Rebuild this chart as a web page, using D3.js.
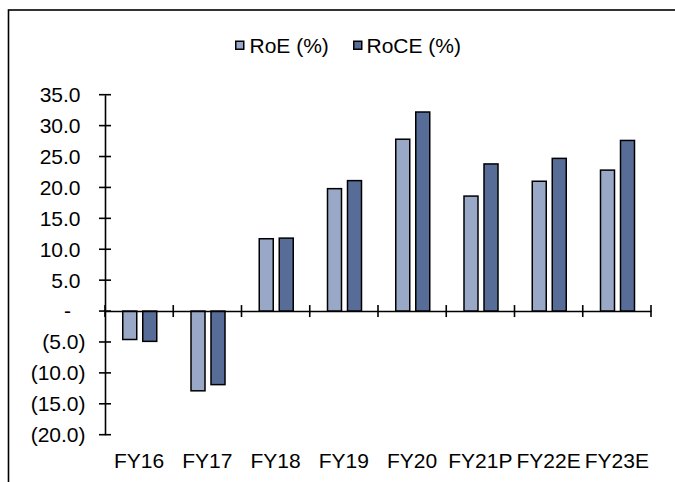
<!DOCTYPE html>
<html>
<head>
<meta charset="utf-8">
<script src="https://cdn.jsdelivr.net/npm/d3@7"></script>
<style>
  html, body { margin: 0; padding: 0; background: #fff; }
  svg { display: block; font-family: "Liberation Sans", Arial, sans-serif; }
</style>
</head>
<body>
<svg id="chart" width="675" height="482"></svg>
<script>
// Return ratios by fiscal year
const categories = ["FY16", "FY17", "FY18", "FY19", "FY20", "FY21P", "FY22E", "FY23E"];
const seriesNames = ["RoE (%)", "RoCE (%)"];
const roe  = [-4.6, -12.9, 11.7, 19.8, 27.8, 18.6, 21.0, 22.8];
const roce = [-4.9, -11.9, 11.8, 21.1, 32.2, 23.8, 24.7, 27.6];
const yTicks = [35, 30, 25, 20, 15, 10, 5, 0, -5, -10, -15, -20];
const colors = ["#98a8c6", "#576c96"];
const fontSize = 21;

const svg = d3.select("#chart");
const seriesValues = [roe, roce];

// Outer frame
svg.append("rect")
  .attr("x", 8.5).attr("y", 10)
  .attr("width", 700).attr("height", 500)
  .attr("fill", "none").attr("stroke", "#000").attr("stroke-width", 1.6);

const y = d3.scaleLinear().domain([-20, 35]).range([434.7, 94.7]);
const x = d3.scaleBand().domain(categories).range([105, 651]).padding(0);
const x1 = d3.scaleBand().domain(seriesNames).range([17, 52.5]).paddingInner(0.225).paddingOuter(0);

// Bars
const rows = categories.map((c, i) => ({ cat: c, vals: seriesNames.map((s, j) => ({ s, j, v: seriesValues[j][i] })) }));
const groups = svg.append("g").selectAll("g").data(rows).join("g")
  .attr("transform", d => `translate(${x(d.cat)},0)`);
groups.selectAll("rect").data(d => d.vals).join("rect")
  .attr("x", d => x1(d.s) + 0.75)
  .attr("width", x1.bandwidth() - 1.5)
  .attr("y", d => y(Math.max(0, d.v)))
  .attr("height", d => Math.abs(y(d.v) - y(0)))
  .attr("fill", d => colors[d.j])
  .attr("stroke", "#000").attr("stroke-width", 1.5);

// Y axis
const fmt = v => v > 0 ? v.toFixed(1) : v < 0 ? `(${Math.abs(v).toFixed(1)})` : "-";
const yAxis = d3.axisLeft(y).tickValues(yTicks).tickSize(0).tickFormat("");
const ya = svg.append("g").attr("transform", "translate(105,0)").call(yAxis);
ya.select(".domain").attr("stroke", "#000").attr("stroke-width", 1.6);
const yt = svg.append("g");
yt.selectAll("line").data(yTicks).join("line")
  .attr("x1", 99).attr("x2", 111)
  .attr("y1", d => y(d)).attr("y2", d => y(d))
  .attr("stroke", "#000").attr("stroke-width", 1.6);
yt.selectAll("text").data(yTicks).join("text")
  .attr("x", d => d > 0 ? 80.5 : d < 0 ? 85.5 : 71)
  .attr("y", d => y(d))
  .attr("dy", "0.35em")
  .attr("text-anchor", "end")
  .attr("font-size", fontSize)
  .attr("fill", "#000")
  .text(fmt);

// X axis at zero
const xa = svg.append("g").attr("transform", `translate(0,${y(0)})`)
  .call(d3.axisBottom(x).tickSize(0).tickFormat(""));
xa.select(".domain").attr("stroke", "#000").attr("stroke-width", 1.6);
const bounds = categories.map(c => x(c)).concat([x.range()[1]]);
svg.append("g").selectAll("line").data(bounds).join("line")
  .attr("x1", d => d).attr("x2", d => d)
  .attr("y1", y(0) - 6).attr("y2", y(0) + 6)
  .attr("stroke", "#000").attr("stroke-width", 1.6);

// Category labels below the plot
svg.append("g").selectAll("text").data(categories).join("text")
  .attr("x", d => x(d) + x.bandwidth() / 2)
  .attr("y", 468)
  .attr("text-anchor", "middle")
  .attr("font-size", fontSize)
  .attr("fill", "#000")
  .text(d => d);

// Legend
const legendItems = [{ name: seriesNames[0], sx: 235, tx: 249.5 }, { name: seriesNames[1], sx: 353, tx: 366.5 }];
const lg = svg.append("g");
legendItems.forEach((it, i) => {
  lg.append("rect")
    .attr("x", it.sx + 0.75).attr("y", 41.25)
    .attr("width", 8).attr("height", 8)
    .attr("fill", colors[i]).attr("stroke", "#000").attr("stroke-width", 1.5);
  lg.append("text")
    .attr("x", it.tx).attr("y", 45.5).attr("dy", "0.35em")
    .attr("font-size", fontSize).attr("fill", "#000")
    .text(it.name);
});
</script>
</body>
</html>
